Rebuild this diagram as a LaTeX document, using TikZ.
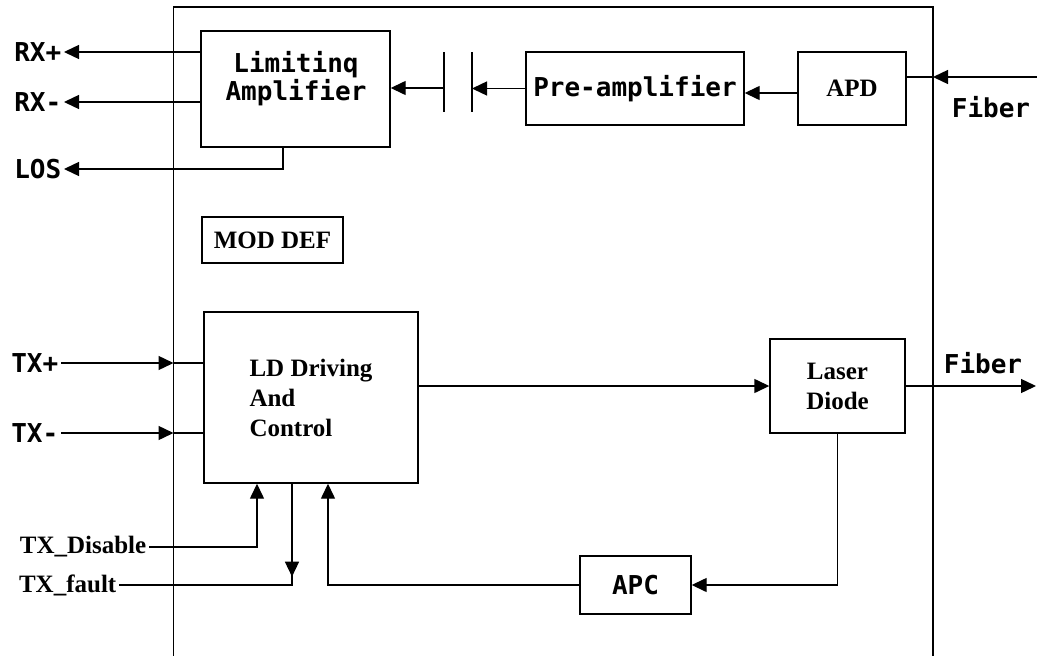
\documentclass[tikz,border=0pt]{standalone}
\usepackage{fontspec}
\setmainfont{Liberation Serif}
\newfontfamily\fixfont{DejaVu Sans Mono}
\usetikzlibrary{arrows.meta}

\begin{document}
\begin{tikzpicture}[x=1pt,y=-1pt,line width=1.4pt,
    blk/.style={draw=black,inner sep=0pt},
    mono/.style={font=\fixfont\bfseries\fontsize{26}{28}\selectfont,inner sep=2pt},
    serif/.style={font=\bfseries\fontsize{25}{30}\selectfont,inner sep=2pt},
    arr/.style={-{Triangle[length=15pt,width=14pt]}},
]
    \useasboundingbox (0,0) rectangle (1037,656);
    % module outline (open at the bottom)
    \draw (173.5,660) -- (173.5,7) -- (933,7) -- (933,660);
    \coordinate (ML) at (173.5,0);
    \coordinate (MR) at (933,0);
    % receiver side
    \node[blk,minimum width=189pt,minimum height=116pt] (LA) at (295.5,89) {};
    \node[mono,align=center] (LAtext) at (296,79) {Limitinq\\Amplifier};
    \node[blk,mono,minimum width=218pt,minimum height=73pt] (PA) at (635,88.5) {Pre-amplifier};
    \node[blk,serif,minimum width=108pt,minimum height=73pt] (APD) at (852,88.5) {APD};
    \node[blk,serif,minimum width=141pt,minimum height=46pt] (MD) at (272.5,240) {MOD DEF};
    % transmitter side
    \node[blk,serif,align=left,minimum width=214pt,minimum height=171pt] (LD) at (311,397.5) {LD Driving\\And\\Control};
    \node[blk,serif,align=center,minimum width=135pt,minimum height=94pt] (LDiode) at (837.5,386) {Laser\\Diode};
    \node[blk,mono,minimum width=111pt,minimum height=58pt] (APC) at (635.5,585) {APC};
    % pins
    \node[mono,anchor=east] (RXP) at (64,52) {RX+};
    \node[mono,anchor=east] (RXM) at (64,102) {RX-};
    \node[mono,anchor=east] (LOS) at (64,169) {LOS};
    \node[mono,anchor=east] (TXP) at (61,363) {TX+};
    \node[mono,anchor=east] (TXM) at (61,433) {TX-};
    \node[serif,anchor=east] (TXD) at (149,547) {TX\_Disable};
    \node[serif,anchor=east] (TXF) at (119,585) {TX\_fault};
    \node[mono] (FIN) at (991,107) {Fiber};
    \node[mono] (FOUT) at (983,363) {Fiber};
    \coordinate (FINe) at (1037,77);
    \coordinate (FOUTe) at (1036,387);
    % coupling capacitor
    \coordinate (C1) at (444,88);
    \coordinate (C2) at (472,88);
    \draw (C1) ++(0,-36) -- ++(0,60);
    \draw (C2) ++(0,-36) -- ++(0,60);
    % receive path
    \draw[arr] (FINe) -- (FINe -| MR);
    \draw (FINe -| MR) -- (FINe -| APD.east);
    \draw[arr] ([yshift=-4.5pt]APD.west) -- ([yshift=-4.5pt]PA.east);
    \draw[arr] (PA.west) -- (PA.west -| C2);
    \draw[arr] (C1) -- (C1 -| LA.east);
    \draw[arr] (LA.west |- RXP) -- (RXP.east);
    \draw[arr] (LA.west |- RXM) -- (RXM.east);
    \draw[arr] ([xshift=-12.5pt]LA.south) |- (LOS.east);
    % transmit path
    \draw[arr] (TXP.east) -- (TXP -| ML);
    \draw (TXP -| ML) -- (TXP -| LD.west);
    \draw[arr] (TXM.east) -- (TXM -| ML);
    \draw (TXM -| ML) -- (TXM -| LD.west);
    \draw[arr] (LD.east |- LDiode) -- (LDiode.west);
    \draw[arr] (LDiode.east) -- (LDiode.east -| FOUTe);
    \draw[arr] (LDiode.south) |- (APC.east);
    \draw[arr] (APC.west) -| ([xshift=17pt]LD.south);
    \draw[arr] (TXD.east) -| ([xshift=-54pt]LD.south);
    \draw (TXF.east) -| ([xshift=-19pt]LD.south);
    \draw[arr] ([xshift=-19pt]LD.south) -- ++(0,93);
\end{tikzpicture}
\end{document}
